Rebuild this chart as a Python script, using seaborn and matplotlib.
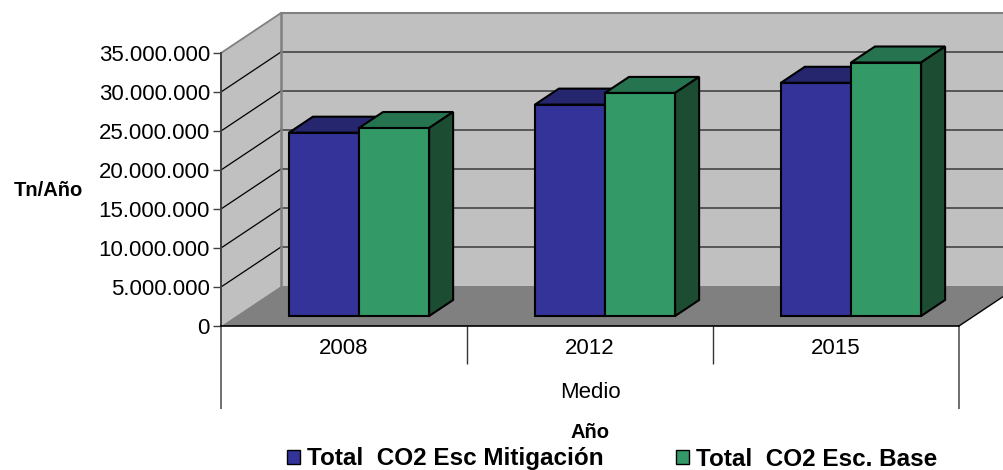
import numpy as np
import pandas as pd
import matplotlib
matplotlib.use("Agg")
import matplotlib.pyplot as plt
import matplotlib.transforms as mtransforms
import matplotlib.patches as mpatches
from matplotlib.lines import Line2D
from matplotlib.ticker import FuncFormatter
import seaborn as sns

# ---- data -------------------------------------------------------------
anios = ["2008", "2012", "2015"]
escenario_mitigacion = [23.5e6, 27.1e6, 29.9e6]
escenario_base = [24.1e6, 28.6e6, 32.5e6]
series = ["Total  CO2 Esc Mitigación", "Total  CO2 Esc. Base"]
grupo = "Medio"
ticks_y = [0, 5e6, 10e6, 15e6, 20e6, 25e6, 30e6, 35e6]

df = pd.DataFrame({
    "Año": anios * 2,
    "valor": escenario_mitigacion + escenario_base,
    "serie": [series[0]] * len(anios) + [series[1]] * len(anios),
})

# ---- style ------------------------------------------------------------
sns.set_style("white")
plt.rcParams["font.family"] = ["Liberation Sans", "DejaVu Sans"]
plt.rcParams["text.color"] = "black"
plt.rcParams["axes.labelcolor"] = "black"
plt.rcParams["xtick.color"] = "black"
plt.rcParams["ytick.color"] = "black"

frente = ["#333399", "#339966"]
techo = ["#26266f", "#267350"]
lateral = ["#1a1a4d", "#1c4d33"]

DPI = 100
W, H = 1004, 470
fig = plt.figure(figsize=(W / DPI, H / DPI), dpi=DPI)
fig.patch.set_facecolor("white")

# front plane of the 3-D box (pixel layout of the plotting area)
x_izq, x_der, y_sup, y_inf = 221, 959, 53, 326
ax = fig.add_axes([x_izq / W, 1 - y_inf / H, (x_der - x_izq) / W, (y_inf - y_sup) / H])
ax.set_facecolor("none")

sns.barplot(data=df, x="Año", y="valor", hue="serie", palette=frente,
            saturation=1, width=0.57, errorbar=None, edgecolor="black",
            linewidth=1.5, legend=False, ax=ax)
ax.set_xlim(-0.5, 2.5)
ax.set_ylim(0, ticks_y[-1])

# depth offsets (pixels) of the back wall and of the bars
def plano(dx, dy):
    return mtransforms.offset_copy(ax.transData, fig=fig, x=dx, y=dy, units="dots")

T_fondo = plano(60, 40)
T_barra_f = plano(15, 10)
T_barra_b = plano(39, 26)
ID = mtransforms.IdentityTransform()


def px(T, x, y):
    return T.transform((x, y))


def poligono(pts, color, z, ec="none", lw=0):
    ax.add_patch(mpatches.Polygon(np.array(pts), closed=True, facecolor=color,
                                  edgecolor=ec, linewidth=lw, transform=ID,
                                  clip_on=False, zorder=z, joinstyle="miter"))


def linea(p0, p1, color, lw, z):
    ax.add_line(Line2D([p0[0], p1[0]], [p0[1], p1[1]], color=color, lw=lw,
                       transform=ID, clip_on=False, zorder=z))


x0, x1 = ax.get_xlim()
ymax = ticks_y[-1]
T0 = ax.transData

# back wall
poligono([px(T_fondo, x0, 0), px(T_fondo, x1, 0), px(T_fondo, x1, ymax),
          px(T_fondo, x0, ymax)], "#c0c0c0", 0.5)
# side wall
poligono([px(T0, x0, 0), px(T0, x0, ymax), px(T_fondo, x0, ymax),
          px(T_fondo, x0, 0)], "#c0c0c0", 0.6)
# floor
poligono([px(T0, x0, 0), px(T0, x1, 0), px(T_fondo, x1, 0),
          px(T_fondo, x0, 0)], "#808080", 0.7)

# gridlines on the back wall and guides on the side wall
for v in ticks_y[1:-1]:
    linea(px(T_fondo, x0, v), px(T_fondo, x1, v), "#4d4d4d", 1.3, 1.0)
    linea(px(T0, x0, v), px(T_fondo, x0, v), "black", 0.9, 1.0)
linea(px(T_fondo, x0, ymax), px(T_fondo, x1, ymax), "#808080", 1.5, 1.0)
linea(px(T0, x0, ymax), px(T_fondo, x0, ymax), "#808080", 1.3, 1.0)
linea(px(T_fondo, x0, 0), px(T_fondo, x0, ymax), "#808080", 1.8, 1.0)
linea(px(T0, x1, 0), px(T_fondo, x1, 0), "black", 1.0, 1.1)

# 3-D bars: front face from seaborn, top and side faces from the same rectangles
for j, cont in enumerate(ax.containers):
    for rect in cont.patches:
        bx, w, h = rect.get_x(), rect.get_width(), rect.get_height()
        z = 3 + 0.3 * j
        rect.set_transform(T_barra_f)
        rect.set_clip_on(False)
        rect.set_zorder(z + 0.1)
        poligono([px(T_barra_f, bx, h), px(T_barra_f, bx + w, h),
                  px(T_barra_b, bx + w, h), px(T_barra_b, bx, h)],
                 techo[j], z, ec="black", lw=1.5)
        poligono([px(T_barra_f, bx + w, 0), px(T_barra_f, bx + w, h),
                  px(T_barra_b, bx + w, h), px(T_barra_b, bx + w, 0)],
                 lateral[j], z, ec="black", lw=1.5)

# axes, ticks and labels
for s in ["top", "right"]:
    ax.spines[s].set_visible(False)
ax.spines["left"].set_color("#404040")
ax.spines["left"].set_linewidth(1.4)
ax.spines["bottom"].set_color("black")
ax.spines["bottom"].set_linewidth(1.2)

ax.set_yticks(ticks_y)
ax.yaxis.set_major_formatter(FuncFormatter(lambda v, p: f"{int(v):,}".replace(",", ".")))
ax.tick_params(axis="y", left=True, length=6, width=1, color="#404040",
               pad=2, labelsize=16, labelcolor="black")
ax.set_xticks(range(len(anios)))
ax.set_xticklabels(anios)
ax.tick_params(axis="x", bottom=False, length=0, pad=9, labelsize=16,
               labelcolor="black")
ax.set_xlabel("")
ax.set_ylabel("")

# category frame under the floor
bt = mtransforms.blended_transform_factory(ax.transData, ax.transAxes)
ax.vlines([0.5, 1.5], -0.139, 0, transform=bt, colors="#333333", lw=1, clip_on=False)
ax.vlines([x0, x1], -0.304, 0, transform=bt, colors="#555555", lw=1.2, clip_on=False)
ax.text(0.5, -0.245, grupo, transform=ax.transAxes, ha="center", va="center",
        fontsize=16, color="black")

fig.text(590 / W, 1 - 432 / H, "Año", ha="center", va="center",
         fontsize=14.5, fontweight="bold", color="black")
fig.text(48 / W, 1 - 190 / H, "Tn/Año", ha="center", va="center",
         fontsize=14.5, fontweight="bold", color="black")

handles = [mpatches.Patch(facecolor=c, edgecolor="black", linewidth=1) for c in frente]
fig.legend(handles, series, loc="center", bbox_to_anchor=(612 / W, 1 - 459 / H),
           ncol=2, frameon=False, prop={"weight": "bold", "size": 17.5},
           handlelength=0.55, handleheight=0.5, handletextpad=0.3,
           columnspacing=2.95, borderpad=0, borderaxespad=0, labelcolor="black")

fig.savefig("out.png", dpi=DPI, facecolor="white")
